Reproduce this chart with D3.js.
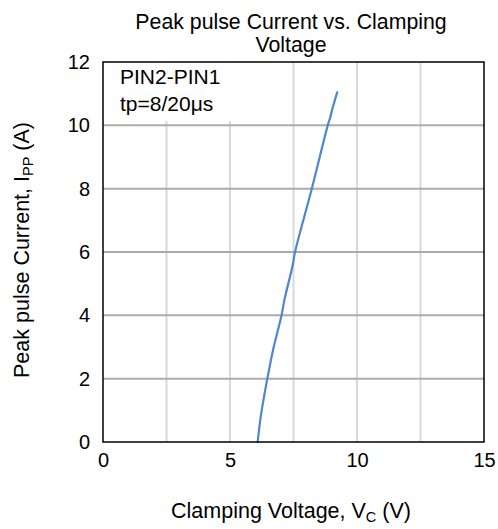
<!DOCTYPE html>
<html>
<head>
<meta charset="utf-8">
<script src="https://cdn.jsdelivr.net/npm/d3@7"></script>
<style>
  html, body { margin: 0; padding: 0; background: #fff; }
  svg text { font-family: "Liberation Sans", Arial, sans-serif; fill: #000; }
</style>
</head>
<body>
<svg id="chart" width="498" height="529"></svg>
<script>
// Data
const voltage = [6.09, 6.21, 6.34, 6.47, 6.71, 7.03, 7.14, 7.47, 7.56, 8.22, 8.87, 8.95, 9.0, 9.22];
const current = [0, 0.8, 1.43, 2.0, 2.96, 4.0, 4.48, 5.59, 6.0, 8.0, 10.06, 10.25, 10.43, 11.04];
const xTicks = [0, 5, 10, 15];
const yTicks = [0, 2, 4, 6, 8, 10, 12];
const xGrid = [2.5, 5, 7.5, 10, 12.5];
const yGrid = [2, 4, 6, 8, 10];
const titleLines = ["Peak pulse Current vs. Clamping", "Voltage"];
const noteLines = ["PIN2-PIN1", "tp=8/20\u03bcs"];

const svg = d3.select("#chart");
const m = { left: 103, right: 484, top: 62, bottom: 442 };

const x = d3.scaleLinear().domain([0, 15]).range([m.left, m.right]);
const y = d3.scaleLinear().domain([0, 12]).range([m.bottom, m.top]);

// vertical gridlines (light)
svg.append("g").selectAll("line").data(xGrid).join("line")
  .attr("x1", d => x(d)).attr("x2", d => x(d))
  .attr("y1", m.top).attr("y2", m.bottom)
  .attr("stroke", "#d9d9d9").attr("stroke-width", 2);

// text box background covering gridlines
svg.append("rect")
  .attr("x", m.left + 1).attr("y", m.top + 1)
  .attr("width", 130).attr("height", 58)
  .attr("fill", "#fff");

// horizontal gridlines (darker)
svg.append("g").selectAll("line").data(yGrid).join("line")
  .attr("x1", m.left).attr("x2", m.right)
  .attr("y1", d => y(d)).attr("y2", d => y(d))
  .attr("stroke", "#ababab").attr("stroke-width", 2);

// curve
const pts = voltage.map((v, i) => [v, current[i]]);
svg.append("path")
  .datum(pts)
  .attr("fill", "none")
  .attr("stroke", "#4f86cf")
  .attr("stroke-width", 2.2)
  .attr("stroke-linecap", "round")
  .attr("d", d3.line().x(d => x(d[0])).y(d => y(d[1])).curve(d3.curveCatmullRom.alpha(0.5)));

// frame
svg.append("rect")
  .attr("x", m.left).attr("y", m.top)
  .attr("width", m.right - m.left).attr("height", m.bottom - m.top)
  .attr("fill", "none").attr("stroke", "#000").attr("stroke-width", 1.5);

// axes tick labels using d3 axes
const xAxis = d3.axisBottom(x).tickValues(xTicks).tickSize(0).tickPadding(11).tickFormat(d3.format("d"));
const gx = svg.append("g").attr("transform", `translate(0,${m.bottom})`).call(xAxis);
gx.select(".domain").remove();
gx.selectAll("text").style("font-size", "20px").style("font-family", '"Liberation Sans", Arial, sans-serif').attr("fill", "#000");

const yAxis = d3.axisLeft(y).tickValues(yTicks).tickSize(0).tickPadding(13).tickFormat(d3.format("d"));
const gy = svg.append("g").attr("transform", `translate(${m.left},0)`).call(yAxis);
gy.select(".domain").remove();
gy.selectAll("text").style("font-size", "20px").style("font-family", '"Liberation Sans", Arial, sans-serif').attr("fill", "#000");

// title
const title = svg.append("text")
  .attr("text-anchor", "middle")
  .style("font-size", "21.3px");
titleLines.forEach((t, i) => {
  title.append("tspan").attr("x", 291).attr("y", 29 + i * 23).text(t);
});

// note
noteLines.forEach((t, i) => {
  svg.append("text").attr("x", 120).attr("y", 84 + i * 27)
    .style("font-size", "21px").text(t);
});

// x axis title
const xt = svg.append("text")
  .attr("x", 291).attr("y", 518)
  .attr("text-anchor", "middle")
  .style("font-size", "21.5px");
xt.append("tspan").text("Clamping Voltage, V");
xt.append("tspan").attr("dy", 4).style("font-size", "14.5px").text("C");
xt.append("tspan").attr("dy", -4).text(" (V)");

// y axis title
const yt = svg.append("text")
  .attr("transform", "translate(29,250) rotate(-90)")
  .attr("text-anchor", "middle")
  .style("font-size", "21.5px");
yt.append("tspan").text("Peak pulse Current, I");
yt.append("tspan").attr("dy", 4).style("font-size", "14.5px").text("PP");
yt.append("tspan").attr("dy", -4).text(" (A)");
</script>
</body>
</html>
